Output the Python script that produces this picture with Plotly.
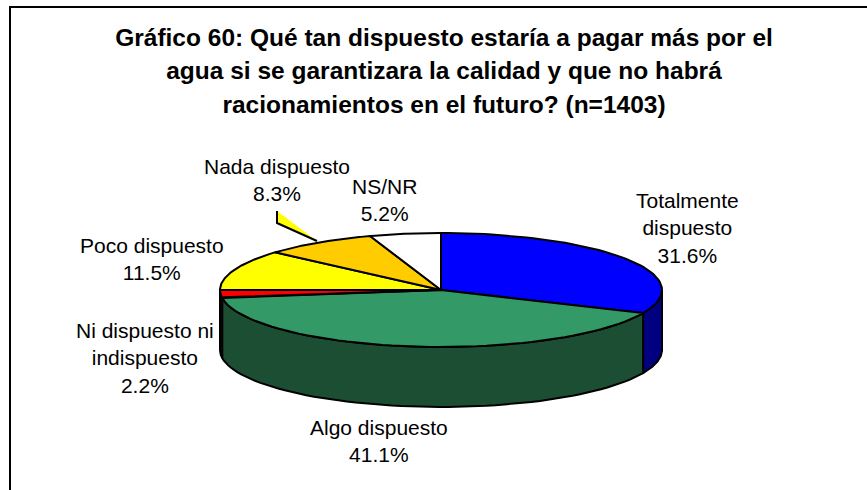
import math
import plotly.graph_objects as go

categories = ["Totalmente dispuesto", "Algo dispuesto", "Ni dispuesto ni indispuesto",
              "Poco dispuesto", "Nada dispuesto", "NS/NR"]
values = [31.6, 41.1, 2.2, 11.5, 8.3, 5.2]
top_colors = ["#0000FF", "#339966", "#FF0000", "#FFFF00", "#FFCC00", "#FFFFFF"]
side_colors = ["#000080", "#1C4E34", "#800000", "#808000", "#806600", "#808080"]
label_lines = [["Totalmente", "dispuesto", "31.6%"], ["Algo dispuesto", "41.1%"],
               ["Ni dispuesto ni", "indispuesto", "2.2%"], ["Poco dispuesto", "11.5%"],
               ["Nada dispuesto", "8.3%"], ["NS/NR", "5.2%"]]
label_pos = [(687, 228), (379, 441), (145, 358), (152, 259), (277, 180), (384, 200)]
title_lines = ["Gráfico 60: Qué tan dispuesto estaría a pagar más por el",
               "agua si se garantizara la calidad y que no habrá",
               "racionamientos en el futuro? (n=1403)"]

CX, CY, RX, RY, DEPTH = 441, 290, 221, 57, 60
total = sum(values)


def pt(deg, dy=0):
    a = math.radians(deg)
    return CX + RX * math.sin(a), CY - RY * math.cos(a) + dy


def arc(a0, a1, dy=0, n=60):
    return [pt(a0 + (a1 - a0) * i / n, dy) for i in range(n + 1)]


fig = go.Figure()
edges = [0]
for v in values:
    edges.append(edges[-1] + v / total * 360)


def poly(points, color, name):
    fig.add_trace(go.Scatter(x=[p[0] for p in points] + [points[0][0]],
                             y=[p[1] for p in points] + [points[0][1]],
                             mode="lines", fill="toself", fillcolor=color, name=name,
                             line=dict(color="black", width=2), hoverinfo="name"))


for i, name in enumerate(categories):
    a0, a1 = max(edges[i], 90), min(edges[i + 1], 270)
    if a1 > a0:
        poly(arc(a0, a1) + arc(a1, a0, DEPTH), side_colors[i], name)
for i, name in enumerate(categories):
    poly([(CX, CY)] + arc(edges[i], edges[i + 1]), top_colors[i], name)

for lines, (x, y) in zip(label_lines, label_pos):
    fig.add_annotation(x=x, y=y, text="<br>".join(lines), showarrow=False,
                       xanchor="center", yanchor="middle", align="center",
                       font=dict(family="Liberation Sans", size=21, color="black"))

title_text = "<br>".join('<span style="font-size:24.5px">%s</span>' % t for t in title_lines)

fig.update_layout(
    width=867, height=490, margin=dict(l=0, r=0, t=0, b=0), autosize=False,
    paper_bgcolor="white", plot_bgcolor="white", showlegend=False,
    title=dict(text=title_text, x=444 / 867, xanchor="center", xref="paper",
               y=0.907, yanchor="middle",
               font=dict(family="Liberation Sans", size=26, color="black", weight="bold")),
    xaxis=dict(range=[0, 867], visible=False, fixedrange=True),
    yaxis=dict(range=[490, 0], visible=False, fixedrange=True),
    shapes=[
        dict(type="path", xref="x", yref="y", path="M 10 490 L 10 7 L 867 7",
             line=dict(color="black", width=2), layer="below"),
        dict(type="path", xref="x", yref="y", path="M 277 211 L 277 223 L 317 241 Z",
             fillcolor="#FFFF00", line=dict(width=0), layer="below"),
        dict(type="path", xref="x", yref="y", path="M 277 211 L 277 223 L 317 241",
             line=dict(color="black", width=2), layer="below"),
    ],
)
fig.write_html("out.html", post_script="document.body.style.margin='0';",
               config={"displayModeBar": False})
